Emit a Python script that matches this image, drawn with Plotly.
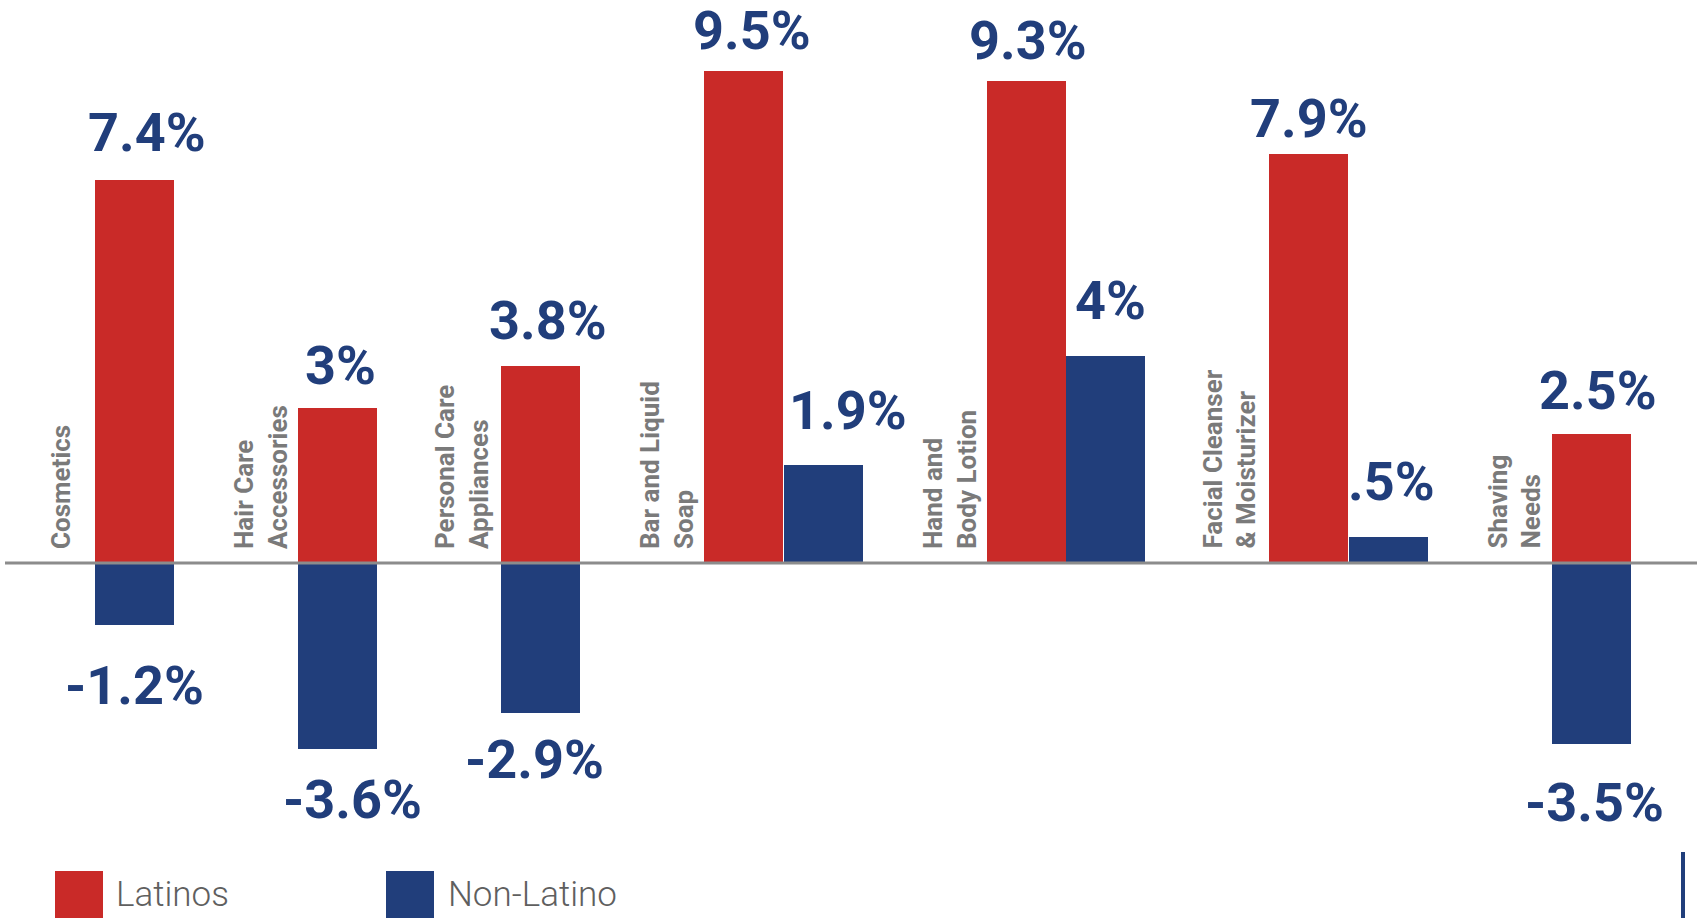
import plotly.graph_objects as go

# ---------------- data ----------------
categories = ["Cosmetics", "Hair Care<br>Accessories", "Personal Care<br>Appliances",
              "Bar and Liquid<br>Soap", "Hand and<br>Body Lotion",
              "Facial Cleanser<br>& Moisturizer", "Shaving<br>Needs"]
latinos = [7.4, 3.0, 3.8, 9.5, 9.3, 7.9, 2.5]
non_latino = [-1.2, -3.6, -2.9, 1.9, 4.0, 0.5, -3.5]
latinos_text = ["7.4%", "3%", "3.8%", "9.5%", "9.3%", "7.9%", "2.5%"]
non_latino_text = ["-1.2%", "-3.6%", "-2.9%", "1.9%", "4%", ".5%", "-3.5%"]
series_names = ["Latinos", "Non-Latino"]

# ---------------- style / layout ----------------
W, H = 1697, 918
RED = "#c92a28"
BLUE = "#213e7b"
GRAY_LINE = "#8c8c8c"
CAT_GRAY = "#7a7a7a"
ZERO_PX = 563          # pixel row of the zero line
PX_PER_UNIT = 51.8
BAR_W = 79
BAR_SEP = 0.5
GAP = 124
START = 95

# per-label pixel nudges (manual placements in the original)
lat_dx = [12, 3, 7, 8, 2, 0, 7]
lat_gap = [28, 23, 26, 21, 21, 16, 24]
non_dx = [0, 15, -6, 25, 5, 3, 3]
non_gap = [40, 29, 25, 35, 36, 36, 37]
cat_dx = [-34, -37, -39, -37, -37, -40, -37]

# slot layout computed from data signs
red_x, blue_x, red_left = [], [], []
cursor = START
for lv, nv in zip(latinos, non_latino):
    red_left.append(cursor)
    rc = cursor + BAR_W / 2
    red_x.append(rc)
    if nv < 0:
        blue_x.append(rc)
        cursor += BAR_W + GAP
    else:
        blue_x.append(rc + BAR_W + BAR_SEP)
        cursor += 2 * BAR_W + BAR_SEP + GAP

fig = go.Figure()
fig.add_trace(go.Bar(x=red_x, y=latinos, width=BAR_W, marker=dict(color=RED, line=dict(width=0)),
                     name=series_names[0], showlegend=False, hoverinfo="skip"))
fig.add_trace(go.Bar(x=blue_x, y=non_latino, width=BAR_W, marker=dict(color=BLUE, line=dict(width=0)),
                     name=series_names[1], showlegend=False, hoverinfo="skip"))

ymax = ZERO_PX / PX_PER_UNIT
ymin = -(H - ZERO_PX) / PX_PER_UNIT

VAL_FONT = dict(family="Roboto", size=54, color=BLUE, weight="bold")
DESC = 0.244 * 54 + 1
ASC_GAP = (0.928 - 0.711) * 54 + 1

annotations = []

def value_label(x, v, txt, dx, gap):
    if v >= 0:
        return dict(x=x, y=v, xref="x", yref="y", text=txt, showarrow=False,
                    xanchor="center", yanchor="bottom", xshift=dx, yshift=gap - DESC,
                    font=VAL_FONT)
    return dict(x=x, y=v, xref="x", yref="y", text=txt, showarrow=False,
                xanchor="center", yanchor="top", xshift=dx, yshift=-(gap - ASC_GAP),
                font=VAL_FONT)

for i in range(len(categories)):
    annotations.append(value_label(red_x[i], latinos[i], latinos_text[i], lat_dx[i], lat_gap[i]))
    annotations.append(value_label(blue_x[i], non_latino[i], non_latino_text[i], non_dx[i], non_gap[i]))
    annotations.append(dict(x=red_left[i], y=0, xref="x", yref="y", text="<b>%s</b>" % categories[i],
                            showarrow=False, xanchor="center", yanchor="bottom", xshift=cat_dx[i], yshift=12,
                            textangle=-90, align="left",
                            font=dict(family="Roboto", size=26, color=CAT_GRAY)))

def py(p):
    return 1 - p / H

# legend drawn as squares + text
shapes = [
    dict(type="line", xref="x", yref="y", x0=5, x1=W, y0=0, y1=0,
         line=dict(color=GRAY_LINE, width=3), layer="above"),
    dict(type="line", xref="x", yref="paper", x0=1683, x1=1683, y0=py(852), y1=py(H),
         line=dict(color=BLUE, width=4)),
]
legend_items = [(55, 114, RED, series_names[0]), (386, 446, BLUE, series_names[1])]
for sx, tx, col, name in legend_items:
    shapes.append(dict(type="rect", xref="x", yref="paper", x0=sx, x1=sx + 48, y0=py(871), y1=py(H + 5),
                       fillcolor=col, line=dict(width=0)))
    annotations.append(dict(x=tx, y=py(908), xref="x", yref="paper", text=name, showarrow=False,
                            xanchor="left", yanchor="bottom", yshift=-9,
                            font=dict(family="Roboto", size=35, color="#5f5f5f", weight=300)))

fig.update_layout(
    width=W, height=H, margin=dict(l=0, r=0, t=0, b=0),
    paper_bgcolor="white", plot_bgcolor="white",
    xaxis=dict(range=[0, W], visible=False, fixedrange=True),
    yaxis=dict(range=[ymin, ymax], visible=False, fixedrange=True),
    barmode="overlay", bargap=0,
    shapes=shapes, annotations=annotations,
)

fig.write_html("out.html", config={"displayModeBar": False},
               post_script="document.body.style.margin='0';document.body.style.overflow='hidden';")
